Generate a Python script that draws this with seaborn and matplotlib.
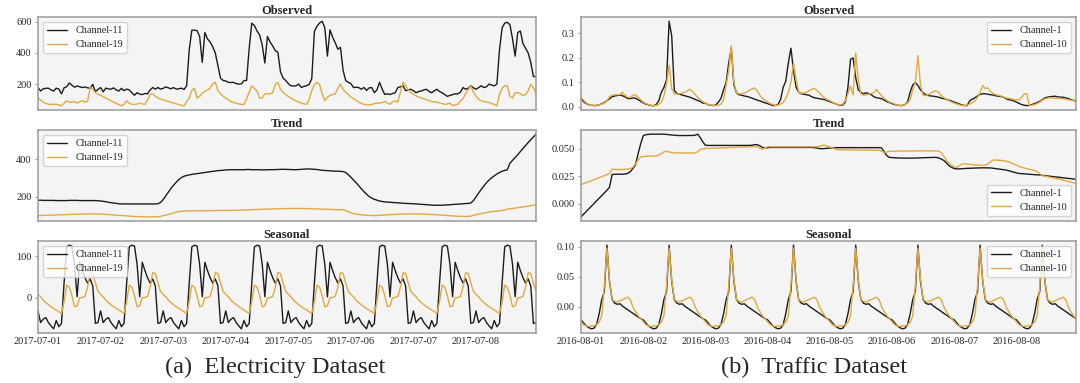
import numpy as np
import pandas as pd
import matplotlib
matplotlib.use("Agg")
import matplotlib.pyplot as plt
import matplotlib.dates as mdates
import seaborn as sns

# ---- data: hourly, 8 days (24 values per row) ----
elec_names = ["Channel-11", "Channel-19"]
traffic_names = ["Channel-1", "Channel-10"]
panel_titles = ["Observed", "Trend", "Seasonal"]

elec_obs_ch11 = [
    180, 158, 172, 175, 176, 165, 158, 176, 170, 140, 178, 185, 209, 195, 182, 190, 185, 180, 184, 178, 176, 200, 155, 168,
    180, 153, 176, 172, 169, 178, 165, 158, 175, 160, 170, 165, 147, 131, 147, 138, 135, 142, 140, 165, 180, 170, 180, 170,
    175, 184, 178, 172, 180, 170, 172, 176, 168, 190, 420, 545, 545, 542, 505, 340, 530, 490, 470, 440, 400, 320, 240, 225,
    222, 213, 212, 213, 205, 202, 203, 224, 225, 430, 590, 575, 540, 515, 450, 336, 505, 470, 445, 415, 405, 280, 240, 225,
    205, 191, 190, 191, 202, 180, 188, 191, 200, 236, 536, 570, 591, 602, 560, 380, 547, 500, 465, 424, 436, 291, 225, 213,
    205, 180, 182, 180, 169, 180, 162, 178, 180, 147, 165, 213, 170, 136, 140, 136, 142, 147, 180, 185, 191, 160, 165, 169,
    160, 147, 155, 158, 165, 169, 155, 147, 160, 169, 155, 147, 135, 124, 130, 135, 140, 140, 150, 180, 169, 175, 191, 178,
    169, 180, 191, 180, 185, 202, 195, 191, 202, 420, 560, 590, 595, 580, 490, 380, 530, 540, 460, 430, 400, 340, 250, 250,
]
elec_obs_ch19 = [
    113, 100, 87, 78, 74, 73, 73, 73, 70, 64, 80, 96, 88, 87, 91, 80, 90, 96, 87, 92, 180, 170, 147, 138,
    131, 122, 113, 105, 96, 88, 80, 72, 64, 73, 96, 80, 73, 73, 75, 80, 76, 73, 100, 136, 140, 125, 113, 107,
    102, 96, 91, 86, 82, 76, 72, 66, 64, 91, 113, 162, 176, 113, 124, 145, 155, 165, 175, 205, 213, 160, 140, 125,
    113, 102, 91, 85, 80, 76, 73, 73, 110, 150, 191, 175, 158, 113, 113, 140, 140, 140, 147, 200, 213, 169, 150, 136,
    122, 113, 102, 95, 88, 80, 76, 73, 105, 160, 200, 213, 200, 140, 96, 118, 130, 136, 140, 175, 202, 169, 150, 136,
    120, 110, 98, 87, 80, 73, 71, 69, 72, 78, 80, 82, 85, 91, 82, 73, 90, 96, 87, 150, 213, 191, 165, 147,
    137, 127, 120, 114, 109, 103, 96, 91, 89, 87, 82, 78, 73, 76, 80, 64, 70, 73, 95, 109, 140, 165, 191, 150,
    125, 105, 96, 91, 88, 85, 80, 72, 64, 136, 175, 191, 191, 124, 113, 147, 147, 140, 130, 135, 160, 200, 180, 140,
]
elec_trend_ch11 = [
    182, 182, 181, 181, 181, 181, 181, 180, 180, 180, 180, 180, 181, 181, 181, 181, 180, 180, 180, 180, 180, 180, 180, 179,
    178, 176, 174, 171, 169, 167, 165, 163, 162, 162, 162, 162, 162, 162, 162, 162, 162, 162, 162, 162, 162, 162, 163, 170,
    185, 205, 225, 245, 262, 278, 292, 303, 310, 314, 317, 320, 322, 324, 326, 328, 330, 332, 334, 336, 338, 340, 341, 342,
    344, 344, 345, 345, 345, 345, 345, 345, 346, 346, 345, 345, 345, 345, 344, 344, 345, 345, 345, 346, 346, 347, 347, 347,
    346, 346, 345, 345, 346, 347, 348, 349, 349, 348, 347, 346, 344, 342, 341, 340, 339, 338, 337, 337, 336, 335, 330, 318,
    305, 290, 275, 260, 243, 228, 214, 202, 193, 187, 182, 178, 175, 173, 172, 171, 170, 169, 168, 167, 166, 165, 164, 164,
    163, 162, 161, 160, 159, 158, 157, 156, 155, 155, 155, 155, 156, 157, 158, 159, 160, 161, 162, 163, 164, 165, 167, 180,
    200, 220, 240, 258, 275, 290, 302, 312, 322, 330, 337, 341, 344, 380, 395, 410, 425, 442, 458, 474, 490, 505, 520, 535,
]
elec_trend_ch19 = [
    100, 100, 101, 101, 102, 102, 103, 103, 104, 104, 105, 105, 106, 106, 107, 107, 108, 108, 109, 109, 109, 109, 109, 108,
    108, 107, 106, 105, 104, 103, 102, 101, 100, 99, 98, 97, 96, 95, 95, 94, 94, 93, 93, 93, 93, 93, 94, 96,
    99, 102, 106, 110, 114, 118, 121, 123, 124, 125, 125, 125, 125, 126, 126, 126, 126, 126, 126, 126, 127, 127, 127, 127,
    127, 127, 128, 128, 128, 129, 129, 130, 130, 131, 131, 132, 132, 133, 133, 134, 134, 135, 135, 136, 136, 137, 137, 137,
    138, 138, 138, 138, 138, 138, 138, 137, 137, 136, 136, 135, 135, 134, 134, 133, 133, 132, 132, 131, 131, 131, 127, 120,
    114, 110, 108, 106, 104, 103, 102, 101, 100, 100, 100, 101, 102, 103, 104, 105, 106, 106, 107, 107, 108, 108, 109, 109,
    109, 109, 108, 108, 107, 107, 106, 106, 105, 104, 103, 102, 101, 100, 99, 98, 97, 96, 96, 95, 95, 95, 97, 101,
    105, 108, 110, 113, 116, 119, 121, 123, 124, 125, 127, 130, 134, 136, 138, 140, 142, 144, 146, 148, 151, 153, 155, 158,
]
# seasonal components repeat every 24 h
elec_seas_ch11_day = [-32, -60, -52, -48, -60, -68, -75, -55, -70, -62, 35, 122,
                      126, 124, 80, 2, 85, 65, 48, 35, 45, 28, -62, -60]
elec_seas_ch19_day = [8, 2, -6, -12, -17, -22, -26, -30, -34, -38, -10, 30,
                      25, 5, -22, -20, 0, 0, 3, 25, 60, 58, 35, 15]

traffic_obs_ch1 = [
    0.035, 0.022, 0.014, 0.010, 0.007, 0.006, 0.006, 0.009, 0.013, 0.018, 0.026, 0.033, 0.042, 0.045, 0.047, 0.049, 0.046, 0.041, 0.035, 0.034, 0.037, 0.036, 0.030, 0.024,
    0.017, 0.012, 0.009, 0.006, 0.005, 0.010, 0.025, 0.060, 0.080, 0.110, 0.350, 0.290, 0.068, 0.055, 0.052, 0.049, 0.046, 0.043, 0.040, 0.036, 0.031, 0.027, 0.023, 0.016,
    0.015, 0.010, 0.007, 0.006, 0.008, 0.020, 0.035, 0.070, 0.100, 0.180, 0.240, 0.090, 0.058, 0.050, 0.048, 0.045, 0.043, 0.040, 0.036, 0.032, 0.028, 0.025, 0.021, 0.017,
    0.014, 0.010, 0.006, 0.006, 0.010, 0.030, 0.080, 0.105, 0.180, 0.240, 0.150, 0.080, 0.060, 0.054, 0.052, 0.050, 0.048, 0.042, 0.038, 0.036, 0.034, 0.032, 0.030, 0.026,
    0.022, 0.018, 0.014, 0.010, 0.007, 0.008, 0.020, 0.080, 0.195, 0.200, 0.120, 0.070, 0.060, 0.054, 0.058, 0.055, 0.050, 0.042, 0.038, 0.036, 0.034, 0.028, 0.022, 0.018,
    0.014, 0.010, 0.008, 0.006, 0.006, 0.010, 0.020, 0.060, 0.090, 0.100, 0.088, 0.070, 0.058, 0.050, 0.047, 0.045, 0.044, 0.042, 0.040, 0.036, 0.034, 0.031, 0.028, 0.024,
    0.020, 0.016, 0.012, 0.008, 0.006, 0.006, 0.025, 0.032, 0.038, 0.045, 0.052, 0.054, 0.054, 0.052, 0.050, 0.049, 0.046, 0.044, 0.043, 0.040, 0.034, 0.030, 0.028, 0.025,
    0.020, 0.015, 0.010, 0.007, 0.006, 0.006, 0.010, 0.014, 0.018, 0.023, 0.030, 0.037, 0.040, 0.042, 0.043, 0.044, 0.041, 0.040, 0.040, 0.037, 0.035, 0.030, 0.027, 0.025,
]
traffic_obs_ch10 = [
    0.039, 0.028, 0.017, 0.010, 0.007, 0.006, 0.007, 0.009, 0.012, 0.016, 0.024, 0.042, 0.048, 0.050, 0.050, 0.051, 0.060, 0.047, 0.040, 0.038, 0.048, 0.050, 0.040, 0.030,
    0.020, 0.014, 0.010, 0.007, 0.006, 0.006, 0.010, 0.020, 0.045, 0.095, 0.170, 0.075, 0.054, 0.053, 0.054, 0.056, 0.060, 0.066, 0.072, 0.063, 0.052, 0.040, 0.030, 0.022,
    0.016, 0.011, 0.008, 0.006, 0.006, 0.007, 0.012, 0.030, 0.090, 0.150, 0.250, 0.100, 0.058, 0.054, 0.054, 0.056, 0.062, 0.068, 0.074, 0.078, 0.065, 0.048, 0.035, 0.027,
    0.020, 0.014, 0.010, 0.006, 0.008, 0.012, 0.018, 0.035, 0.060, 0.100, 0.178, 0.110, 0.060, 0.056, 0.058, 0.060, 0.066, 0.072, 0.076, 0.068, 0.058, 0.046, 0.036, 0.030,
    0.026, 0.020, 0.014, 0.010, 0.008, 0.012, 0.025, 0.054, 0.085, 0.050, 0.220, 0.110, 0.054, 0.048, 0.050, 0.052, 0.055, 0.058, 0.072, 0.058, 0.045, 0.035, 0.027, 0.020,
    0.017, 0.012, 0.008, 0.006, 0.006, 0.010, 0.017, 0.030, 0.070, 0.100, 0.210, 0.090, 0.048, 0.046, 0.050, 0.056, 0.064, 0.066, 0.060, 0.046, 0.038, 0.032, 0.026, 0.020,
    0.016, 0.012, 0.009, 0.006, 0.006, 0.008, 0.012, 0.018, 0.025, 0.040, 0.060, 0.088, 0.075, 0.078, 0.064, 0.055, 0.050, 0.048, 0.045, 0.040, 0.037, 0.035, 0.034, 0.030,
    0.030, 0.028, 0.040, 0.052, 0.055, 0.006, 0.007, 0.010, 0.014, 0.020, 0.028, 0.033, 0.036, 0.038, 0.037, 0.035, 0.036, 0.035, 0.034, 0.032, 0.030, 0.028, 0.026, 0.022,
]
traffic_trend_ch1 = [
    -0.0117, -0.0093, -0.0069, -0.0045, -0.0021, 0.0003, 0.0027, 0.0051, 0.0075, 0.0099, 0.0123, 0.0150, 0.0265, 0.0268, 0.0268, 0.0268, 0.0268, 0.0270, 0.0275, 0.0290, 0.0320, 0.0350, 0.0450, 0.0540,
    0.0615, 0.0625, 0.0628, 0.0630, 0.0630, 0.0630, 0.0630, 0.0630, 0.0630, 0.0628, 0.0625, 0.0622, 0.0620, 0.0618, 0.0617, 0.0617, 0.0617, 0.0617, 0.0617, 0.0618, 0.0620, 0.0630, 0.0600, 0.0560,
    0.0530, 0.0528, 0.0528, 0.0528, 0.0528, 0.0528, 0.0528, 0.0528, 0.0528, 0.0528, 0.0528, 0.0528, 0.0528, 0.0528, 0.0528, 0.0528, 0.0528, 0.0528, 0.0530, 0.0535, 0.0535, 0.0525, 0.0510, 0.0505,
    0.0508, 0.0510, 0.0510, 0.0510, 0.0510, 0.0510, 0.0510, 0.0510, 0.0510, 0.0510, 0.0510, 0.0510, 0.0510, 0.0510, 0.0510, 0.0510, 0.0510, 0.0510, 0.0508, 0.0505, 0.0500, 0.0498, 0.0500, 0.0503,
    0.0505, 0.0507, 0.0508, 0.0508, 0.0508, 0.0508, 0.0508, 0.0508, 0.0508, 0.0508, 0.0508, 0.0508, 0.0508, 0.0508, 0.0508, 0.0508, 0.0508, 0.0508, 0.0508, 0.0508, 0.0505, 0.0470, 0.0435, 0.0420,
    0.0418, 0.0416, 0.0415, 0.0414, 0.0413, 0.0413, 0.0413, 0.0413, 0.0413, 0.0414, 0.0415, 0.0416, 0.0417, 0.0418, 0.0419, 0.0420, 0.0420, 0.0420, 0.0415, 0.0405, 0.0392, 0.0370, 0.0345, 0.0330,
    0.0320, 0.0316, 0.0316, 0.0318, 0.0320, 0.0321, 0.0322, 0.0323, 0.0324, 0.0325, 0.0326, 0.0326, 0.0326, 0.0326, 0.0325, 0.0322, 0.0319, 0.0316, 0.0313, 0.0310, 0.0306, 0.0300, 0.0293, 0.0287,
    0.0280, 0.0275, 0.0273, 0.0271, 0.0269, 0.0267, 0.0265, 0.0264, 0.0263, 0.0261, 0.0258, 0.0255, 0.0252, 0.0250, 0.0247, 0.0244, 0.0242, 0.0239, 0.0236, 0.0233, 0.0230, 0.0227, 0.0224, 0.0222,
]
traffic_trend_ch10 = [
    0.0174, 0.0183, 0.0192, 0.0201, 0.0210, 0.0219, 0.0228, 0.0237, 0.0246, 0.0255, 0.0264, 0.0275, 0.0314, 0.0312, 0.0310, 0.0310, 0.0310, 0.0312, 0.0315, 0.0320, 0.0330, 0.0360, 0.0395, 0.0425,
    0.0428, 0.0430, 0.0431, 0.0432, 0.0433, 0.0433, 0.0440, 0.0455, 0.0470, 0.0475, 0.0470, 0.0465, 0.0460, 0.0460, 0.0460, 0.0460, 0.0460, 0.0460, 0.0460, 0.0460, 0.0460, 0.0470, 0.0490, 0.0497,
    0.0500, 0.0501, 0.0502, 0.0503, 0.0504, 0.0505, 0.0506, 0.0507, 0.0508, 0.0509, 0.0510, 0.0511, 0.0512, 0.0513, 0.0514, 0.0515, 0.0516, 0.0516, 0.0516, 0.0516, 0.0516, 0.0505, 0.0492, 0.0505,
    0.0516, 0.0516, 0.0516, 0.0516, 0.0516, 0.0516, 0.0516, 0.0516, 0.0516, 0.0516, 0.0516, 0.0516, 0.0516, 0.0516, 0.0516, 0.0516, 0.0516, 0.0516, 0.0516, 0.0516, 0.0520, 0.0527, 0.0530, 0.0522,
    0.0515, 0.0505, 0.0497, 0.0490, 0.0489, 0.0489, 0.0488, 0.0488, 0.0488, 0.0487, 0.0487, 0.0487, 0.0486, 0.0486, 0.0486, 0.0485, 0.0485, 0.0485, 0.0484, 0.0484, 0.0475, 0.0465, 0.0468, 0.0475,
    0.0476, 0.0476, 0.0477, 0.0477, 0.0477, 0.0478, 0.0478, 0.0478, 0.0478, 0.0479, 0.0479, 0.0479, 0.0479, 0.0480, 0.0480, 0.0480, 0.0480, 0.0480, 0.0478, 0.0462, 0.0430, 0.0395, 0.0364, 0.0350,
    0.0335, 0.0330, 0.0345, 0.0360, 0.0362, 0.0360, 0.0357, 0.0354, 0.0351, 0.0350, 0.0350, 0.0350, 0.0350, 0.0360, 0.0380, 0.0395, 0.0396, 0.0395, 0.0393, 0.0390, 0.0386, 0.0380, 0.0370, 0.0360,
    0.0350, 0.0340, 0.0330, 0.0325, 0.0318, 0.0312, 0.0307, 0.0303, 0.0290, 0.0272, 0.0255, 0.0250, 0.0245, 0.0240, 0.0235, 0.0230, 0.0226, 0.0222, 0.0216, 0.0210, 0.0204, 0.0198, 0.0191, 0.0184,
]
traffic_seas_ch1_day = [-0.022, -0.027, -0.032, -0.035, -0.037, -0.036, -0.030, -0.012, 0.012, 0.025, 0.103, 0.042,
                        0.012, 0.006, 0.004, 0.005, 0.001, -0.002, -0.005, -0.008, -0.011, -0.014, -0.017, -0.020]
traffic_seas_ch10_day = [-0.025, -0.030, -0.032, -0.033, -0.032, -0.032, -0.030, -0.026, -0.015, 0.035, 0.098, 0.045,
                         0.012, 0.009, 0.008, 0.010, 0.012, 0.014, 0.016, 0.012, 0.000, -0.008, -0.015, -0.020]

elec_time = pd.date_range("2017-07-01", periods=len(elec_obs_ch11), freq="h")
traffic_time = pd.date_range("2016-08-01", periods=len(traffic_obs_ch1), freq="h")
n_days = len(elec_time) // 24

BLACK = "#1c1c1c"
GOLD = "#E0AA40"

sns.set_style("white", {"axes.facecolor": "#f4f4f4", "axes.edgecolor": "#9a9a9a"})
plt.rcParams["font.family"] = ["Liberation Serif", "DejaVu Serif"]


def draw_panel(ax, t, s1, s2, names, title, loc, yticks, bottom):
    sns.lineplot(x=t, y=s1, ax=ax, color=BLACK, lw=1.0, label=names[0])
    sns.lineplot(x=t, y=s2, ax=ax, color=GOLD, lw=1.0, label=names[1])
    ax.set_xlim(t[0], t[-1])
    ax.set_yticks(yticks)
    ax.set_xlabel("")
    ax.set_ylabel("")
    ax.set_title(title, fontsize=9, fontweight="bold", pad=2.5)
    ax.legend(loc=loc, fontsize=7.3, facecolor="white", edgecolor="#cccccc", framealpha=0.8)
    ax.xaxis.set_major_locator(mdates.DayLocator())
    ax.xaxis.set_major_formatter(mdates.DateFormatter("%Y-%m-%d"))
    ax.tick_params(axis="y", left=True, length=2.5, width=0.8, pad=2, labelsize=7.5, color="#9a9a9a")
    ax.tick_params(axis="x", bottom=bottom, length=0, pad=3, labelsize=7.5, labelbottom=bottom)
    for sp in ax.spines.values():
        sp.set_linewidth(1.1)


fig = plt.figure(figsize=(10.8, 3.83), dpi=100)
W, H = 1080, 383
rows_px = [(17, 110), (130, 221), (241, 333)]
cols_px = [(38, 536), (581, 1076)]

axes = []
for (top, bot) in rows_px:
    row = []
    for (l, r) in cols_px:
        row.append(fig.add_axes([l / W, 1 - bot / H, (r - l) / W, (bot - top) / H]))
    axes.append(row)

elec_series = [
    (elec_obs_ch11, elec_obs_ch19),
    (elec_trend_ch11, elec_trend_ch19),
    (np.tile(elec_seas_ch11_day, n_days), np.tile(elec_seas_ch19_day, n_days)),
]
traffic_series = [
    (traffic_obs_ch1, traffic_obs_ch10),
    (traffic_trend_ch1, traffic_trend_ch10),
    (np.tile(traffic_seas_ch1_day, n_days), np.tile(traffic_seas_ch10_day, n_days)),
]
elec_yticks = [[200, 400, 600], [200, 400], [0, 100]]
traffic_yticks = [[0.0, 0.1, 0.2, 0.3], [0.0, 0.025, 0.05], [0.0, 0.05, 0.10]]
traffic_locs = ["upper right", "lower right", "upper right"]

for k in range(3):
    draw_panel(axes[k][0], elec_time, *elec_series[k], elec_names, panel_titles[k],
               "upper left", elec_yticks[k], k == 2)
    draw_panel(axes[k][1], traffic_time, *traffic_series[k], traffic_names, panel_titles[k],
               traffic_locs[k], traffic_yticks[k], k == 2)

axes[0][1].yaxis.set_major_formatter(matplotlib.ticker.FormatStrFormatter("%.1f"))
axes[1][1].yaxis.set_major_formatter(matplotlib.ticker.FormatStrFormatter("%.3f"))
axes[2][1].yaxis.set_major_formatter(matplotlib.ticker.FormatStrFormatter("%.2f"))

fig.text(275 / W, 1 - 367 / H, "(a)  Electricity Dataset", ha="center", va="center", fontsize=17.5)
fig.text(814 / W, 1 - 367 / H, "(b)  Traffic Dataset", ha="center", va="center", fontsize=17.5)

fig.savefig("out.png", dpi=100)
